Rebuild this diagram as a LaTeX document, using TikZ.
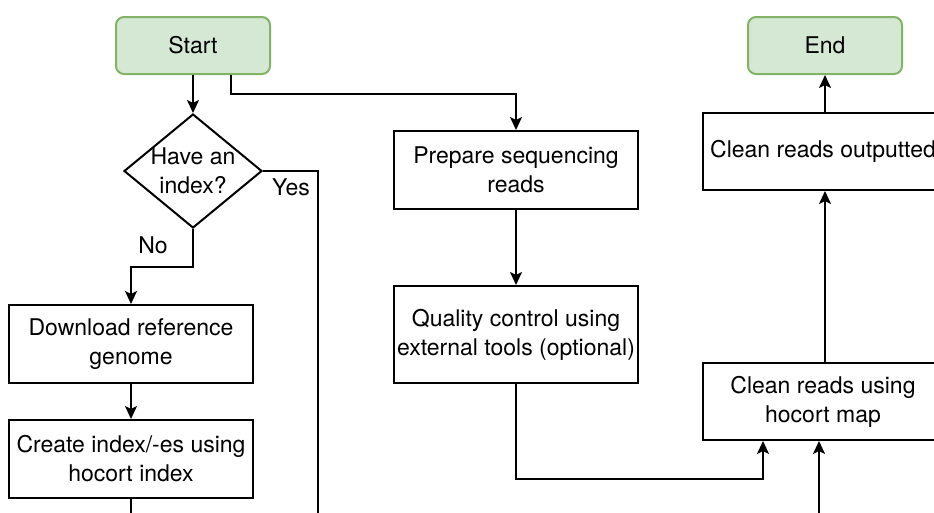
\documentclass[tikz,border=0pt]{standalone}
\usepackage{fontspec}
\setmainfont{TeX Gyre Heros}
\usetikzlibrary{shapes.geometric, arrows.meta}
\definecolor{termfill}{HTML}{D5E8D4}
\definecolor{termline}{HTML}{82B366}

\begin{document}
\begin{tikzpicture}[x=1pt, y=-1pt, line width=2pt,
    font=\fontsize{23}{29}\selectfont,
    term/.style={draw=termline, fill=termfill, rounded corners=8pt, minimum width=154pt, minimum height=57pt},
    stepbox/.style={draw, align=center, minimum width=244pt, minimum height=78pt, inner sep=2pt},
    ask/.style={draw, diamond, align=center, aspect=1.2, inner sep=-4pt, minimum width=138pt, minimum height=114pt},
    arr/.style={-{Stealth[length=13pt, width=12pt, inset=3pt]}}]
      \useasboundingbox (0,0) rectangle (934,512);
      \clip (0,0) rectangle (934,512);

      \node[term] (start) at (193,45.5) {Start};
      \node[term] (end) at (825,45.5) {End};
      \node[ask] (idx) at (193,171) {Have an\\index?};
      \node[stepbox] (dl) at (131,344) {Download reference\\genome};
      \node[stepbox] (mk) at (131,459) {Create index/-es using\\hocort index};
      \node[stepbox] (prep) at (516,170) {Prepare sequencing\\reads};
      \node[stepbox, minimum height=97pt] (qc) at (516,334.5) {Quality control using\\external tools (optional)};
      \node[stepbox, minimum width=240pt, minimum height=77pt] (map) at (823,401.5) {Clean reads using\\hocort map};
      \node[stepbox, minimum width=240pt, minimum height=77pt] (out) at (823,151.5) {Clean reads outputted};
      \node (yes) at (291,187) {Yes};
      \node (no) at (153,245) {No};

      \coordinate (yesdown) at (318,530);
      \coordinate (mkdown) at (131,530);
      \coordinate (mapup) at (819,530);

      \draw[arr] (start) -- (idx);
      \draw[arr] ([xshift=38pt]start.south) -- ++(0,19) -| (prep);
      \draw (idx.east) -| (yesdown);
      \draw[arr] (idx.south) -- ++(0,38) -| (dl);
      \draw[arr] (dl) -- (mk);
      \draw (mk) -- (mkdown);
      \draw[arr] (prep) -- (qc);
      \draw[arr] (qc.south) -- ++(0,95) -| ([xshift=-60pt]map.south);
      \draw[arr] (mapup) -- (mapup |- map.south);
      \draw[arr] ([xshift=2pt]map.north) -- ([xshift=2pt]out.south);
      \draw[arr] (out.north -| end) -- (end);
    \end{tikzpicture}
\end{document}
